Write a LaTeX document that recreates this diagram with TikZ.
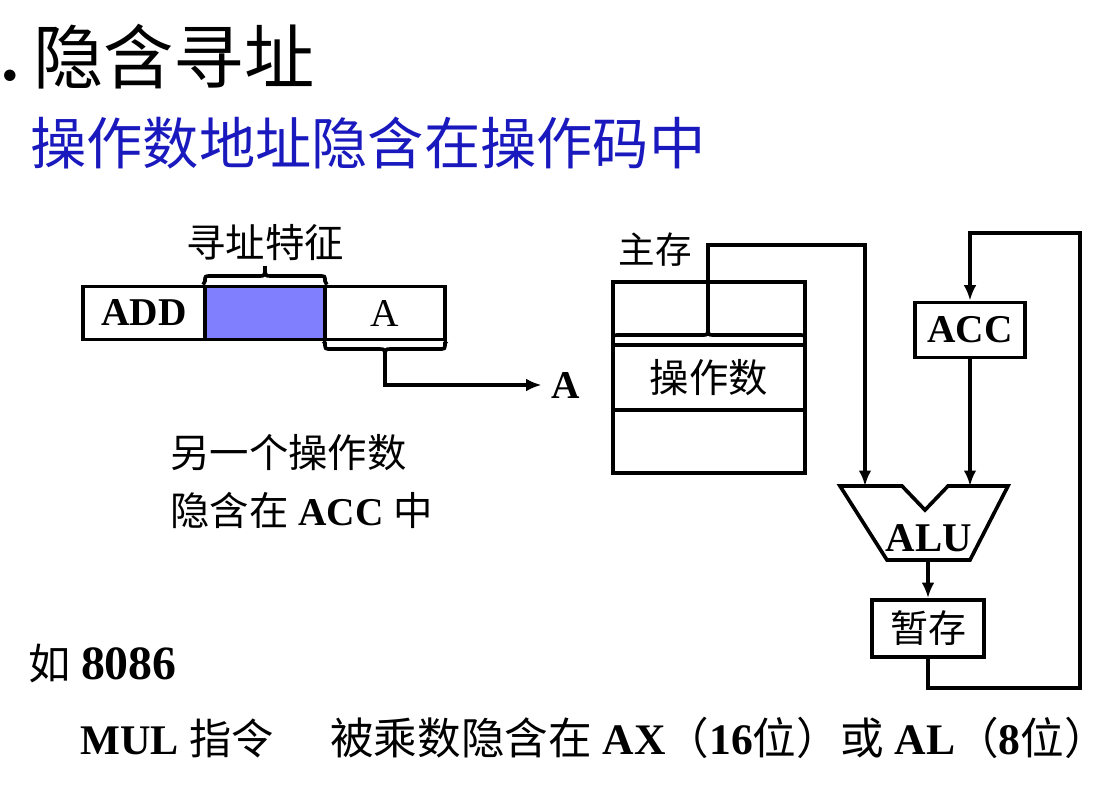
\documentclass[tikz,border=0pt]{standalone}
\usepackage{fontspec}
\setmainfont{Liberation Serif}
\newfontfamily\cjk{Noto Sans CJK SC}
\usetikzlibrary{arrows.meta}
\definecolor{modefill}{RGB}{128,128,255}
\definecolor{subblue}{RGB}{25,25,190}
\newcommand{\fs}[1]{\fontsize{#1}{#1}\selectfont}
\begin{document}
\begin{tikzpicture}[x=0.025cm,y=0.025cm,
  lw/.style={line width=2.6pt},
  cell/.style={draw,lw,minimum height=1.325cm,inner sep=0pt,font=\fs{28}},
  box/.style={draw,lw,inner sep=0pt,font=\fs{28}},
  arr/.style={lw,-{Latex[length=11pt,width=9pt]}},
  txt/.style={inner sep=0pt,anchor=west},
]
\useasboundingbox (0,0) rectangle (1112,-792);
% title
\node[inner sep=0pt,anchor=base east,font=\fs{50}\bfseries] (dot) at (19,-80) {.};
\node[txt,font=\fs{50}\cjk] (title) at (33,-57) {隐含寻址};
\node[txt,font=\fs{40}\cjk,text=subblue] (sub) at (30,-143) {操作数地址隐含在操作码中};
% instruction format
\node[cell,minimum width=3.05cm] (add) at (144,-313) {\textbf{ADD}};
\node[cell,minimum width=3.0cm,fill=modefill] (mode) at (265,-313) {};
\node[cell,minimum width=3.0cm] (acell) at (385,-313) {A};
\node[font=\fs{28}\cjk,inner sep=0pt] (feat) at (265,-243) {寻址特征};
\draw[lw] (mode.north west) -- (205,-281) .. controls (205,-276) .. (211,-276) -- (259,-276)
  .. controls (265,-276) .. (265,-266) .. controls (265,-276) .. (271,-276) -- (319,-276)
  .. controls (325,-276) .. (325,-281) -- (mode.north east);
\coordinate (btip) at (385,-358);
\draw[lw] (acell.south west) -- (325,-343) .. controls (325,-349) .. (331,-349) -- (379,-349)
  .. controls (385,-349) .. (btip) .. controls (385,-349) .. (391,-349) -- (439,-349)
  .. controls (445,-349) .. (445,-343) -- (acell.south east);
\node[inner sep=7pt,font=\fs{28}\bfseries] (Atgt) at (566,-385) {A};
\draw[arr] (btip) |- (Atgt.west);
% other operand note
\node[txt,font=\fs{28}\cjk] (n1) at (170,-453) {另一个操作数};
\node[txt,font=\fs{28}] (n2) at (170,-510) {{\cjk 隐含在} \textbf{ACC} {\cjk 中}};
% main memory
\node[font=\fs{26}\cjk,inner sep=0pt] (mlabel) at (655,-250) {主存};
\node[box,minimum width=4.8cm,minimum height=4.775cm] (mem) at (709,-377.5) {};
\node[box,minimum width=4.8cm,minimum height=1.625cm,font=\fs{28}\cjk] (opnd) at (709,-377.5) {操作数};
\coordinate (memtip) at (708,-327);
\draw[lw] (613,-341) .. controls (613,-335) .. (619,-335) -- (702,-335)
  .. controls (708,-335) .. (memtip) .. controls (708,-335) .. (714,-335) -- (799,-335)
  .. controls (805,-335) .. (805,-341);
% ACC, ALU, temp
\node[box,minimum width=2.75cm,minimum height=1.375cm] (acc) at (970,-330) {\textbf{ACC}};
\coordinate (aluA) at (840,-486);
\coordinate (aluB) at (902,-486);
\coordinate (aluV) at (925,-510);
\coordinate (aluC) at (948,-486);
\coordinate (aluD) at (1008,-486);
\coordinate (aluE) at (970,-560);
\coordinate (aluF) at (887,-560);
\draw[lw,line join=miter] (aluA) -- (aluB) -- (aluV) -- (aluC) -- (aluD) -- (aluE) -- (aluF) -- cycle;
\node[inner sep=0pt,font=\fs{29}\bfseries] (alu) at (929,-538) {ALU};
\coordinate (aluin1) at (865,-486);
\coordinate (aluin2) at (970,-486);
\coordinate (aluout) at (928,-560);
\node[box,minimum width=2.8cm,minimum height=1.425cm,font=\fs{27}\cjk] (tmp) at (928,-628.5) {暂存};
\coordinate (memturn) at (865,-245);
\coordinate (fb1) at (1080,-688);
\coordinate (fb2) at (1080,-233);
\draw[arr] (memtip) |- (memturn) -- (aluin1);
\draw[arr] (acc.south) -- (aluin2);
\draw[arr] (aluout) -- (tmp.north);
\draw[arr] (tmp.south) |- (fb1) -- (fb2) -| (acc.north);
% bottom text
\node[txt,font=\fs{30}] (ex) at (28,-663) {{\cjk 如} \textbf{\fs{34}8086}};
\node[txt,font=\fs{30}] (mul) at (80,-738) {\textbf{MUL} {\cjk 指令}};
\node[txt,font=\fs{31}] (desc) at (330,-738) {{\cjk 被乘数隐含在} \textbf{AX}{\cjk （}\textbf{16}{\cjk 位）或} \textbf{AL}{\cjk （}\textbf{8}{\cjk 位）}};
\end{tikzpicture}
\end{document}
